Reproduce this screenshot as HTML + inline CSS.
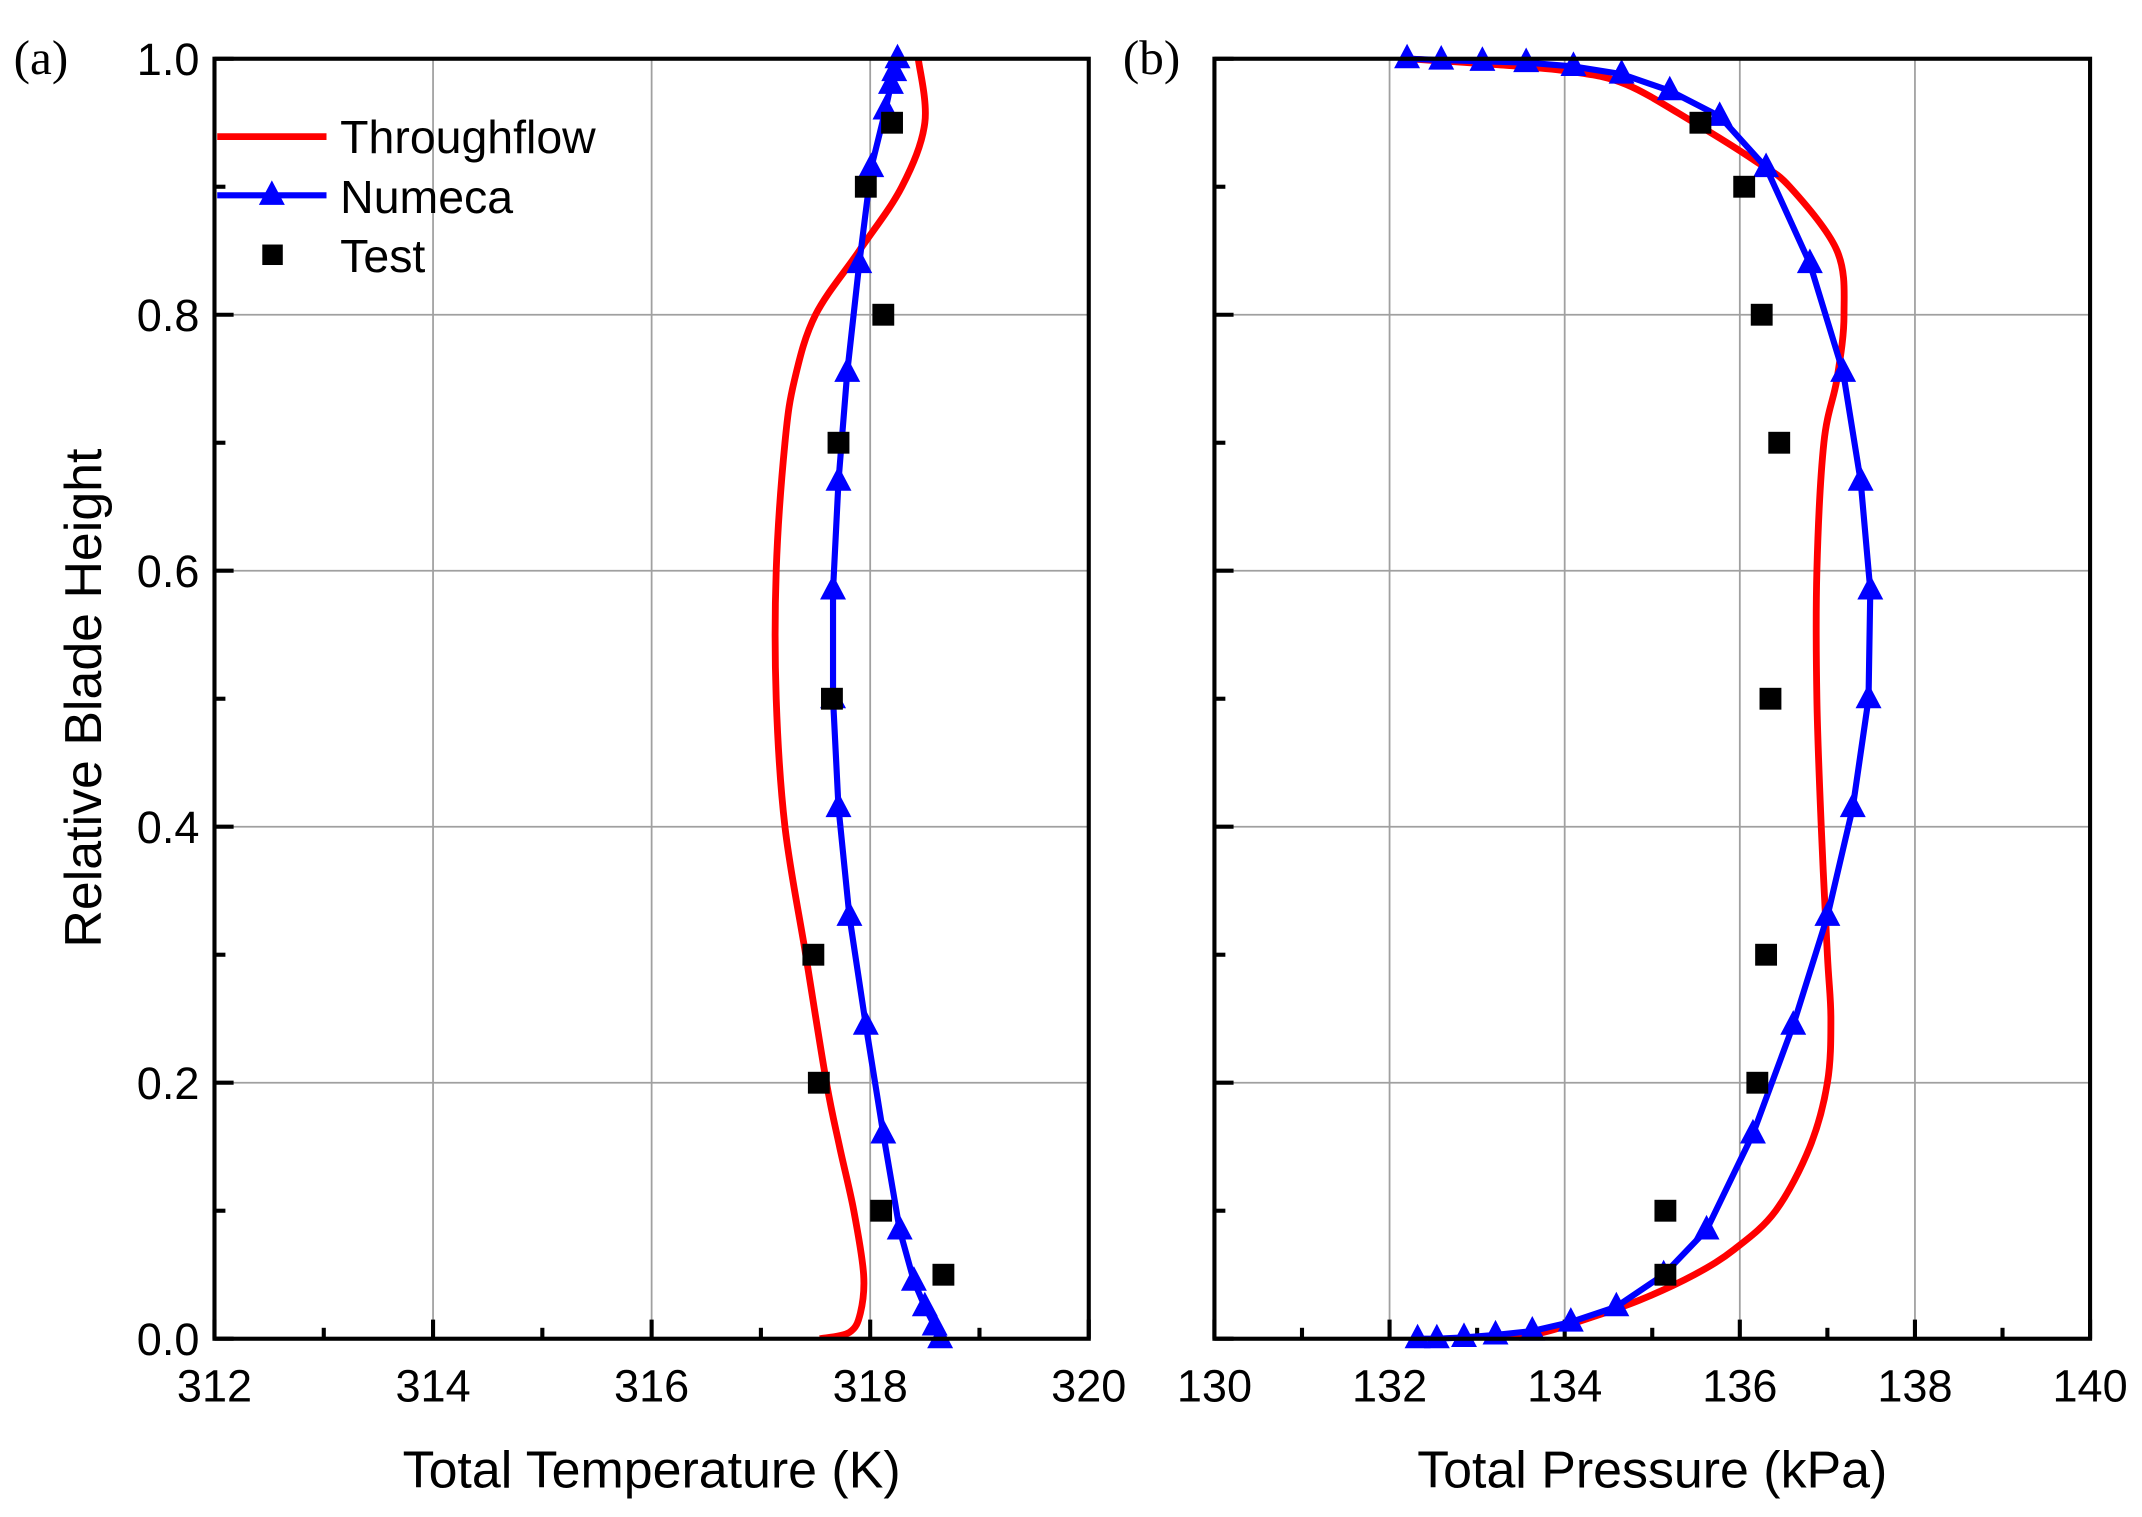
<!DOCTYPE html>
<html><head><meta charset="utf-8"><style>
html,body{margin:0;padding:0;background:#fff;}
svg{display:block;}
text{font-family:"Liberation Sans",Arial,sans-serif;fill:#000;}
</style></head><body>
<svg id="chart" width="2142" height="1517" viewBox="0 0 1568 1110.5" xmlns="http://www.w3.org/2000/svg"></svg>
<script>
// ---- data ----
const heightTicks = [0, 0.2, 0.4, 0.6, 0.8, 1.0];
const tempTicks = [312, 314, 316, 318, 320];
const presTicks = [130, 132, 134, 136, 138, 140];

const tfTempH = [1.0, 0.95, 0.9, 0.85, 0.8, 0.75, 0.7, 0.6, 0.5, 0.4, 0.3, 0.2, 0.15, 0.1, 0.05, 0.02, 0.005, 0.0];
const tfTempV = [318.44, 318.5, 318.29, 317.9, 317.5, 317.31, 317.22, 317.14, 317.14, 317.22, 317.41, 317.6, 317.72, 317.85, 317.94, 317.91, 317.81, 317.54];
const nmTempH = [1.0, 0.99, 0.98, 0.96, 0.915, 0.84, 0.755, 0.67, 0.585, 0.5, 0.415, 0.33, 0.245, 0.16, 0.085, 0.045, 0.025, 0.01, 0.0];
const nmTempV = [318.25, 318.22, 318.19, 318.14, 318.01, 317.9, 317.79, 317.71, 317.66, 317.66, 317.71, 317.81, 317.96, 318.12, 318.27, 318.4, 318.5, 318.59, 318.64];
const testTempH = [0.95, 0.9, 0.8, 0.7, 0.5, 0.3, 0.2, 0.1, 0.05];
const testTempV = [318.2, 317.96, 318.12, 317.71, 317.65, 317.48, 317.53, 318.1, 318.67];

const tfPresH = [1.0, 0.995, 0.99, 0.98, 0.95, 0.92, 0.9, 0.85, 0.8, 0.75, 0.7, 0.6, 0.5, 0.4, 0.3, 0.25, 0.2, 0.15, 0.1, 0.07, 0.05, 0.03, 0.015, 0.005, 0.0];
const tfPresV = [132.2, 133.3, 134.07, 134.7, 135.48, 136.18, 136.57, 137.11, 137.19, 137.11, 136.96, 136.88, 136.88, 136.93, 137.0, 137.04, 137.0, 136.8, 136.41, 135.94, 135.48, 134.85, 134.23, 133.76, 133.3];
const nmPresH = [1.0, 0.999, 0.998, 0.997, 0.994, 0.988, 0.975, 0.955, 0.915, 0.84, 0.755, 0.67, 0.585, 0.5, 0.415, 0.33, 0.245, 0.16, 0.085, 0.05, 0.025, 0.013, 0.006, 0.003, 0.001, 0.0, 0.0];
const nmPresV = [132.2, 132.59, 133.06, 133.56, 134.1, 134.65, 135.2, 135.77, 136.3, 136.8, 137.18, 137.38, 137.49, 137.47, 137.29, 137.0, 136.61, 136.15, 135.62, 135.13, 134.59, 134.07, 133.63, 133.21, 132.85, 132.54, 132.32];
const testPresH = [0.95, 0.9, 0.8, 0.7, 0.5, 0.3, 0.2, 0.1, 0.05];
const testPresV = [135.55, 136.05, 136.25, 136.45, 136.35, 136.3, 136.2, 135.15, 135.15];

// ---- drawing ----
const NS = "http://www.w3.org/2000/svg";
const svg = document.getElementById('chart');
function mk(tag, attrs, parent) {
  const e = document.createElementNS(NS, tag);
  for (const k in attrs) e.setAttribute(k, attrs[k]);
  (parent || svg).appendChild(e);
  return e;
}
const TOP = 43, BOT = 980;
const yS = v => BOT - v * (BOT - TOP);

function panel(L, R, x0, x1, xticks, minorStep, xlabel, tag, tfH, tfV, nmH, nmV, teH, teV, legend, name) {
  const xS = v => L + (v - x0) / (x1 - x0) * (R - L);
  const g = mk('g', {});
  
  
  xticks.forEach(t => { if (t > x0 && t < x1) {
    const l = mk('line', {x1: xS(t), x2: xS(t), y1: TOP, y2: BOT, stroke: '#a0a0a0', 'stroke-width': 1.3}, g);
    
    
  }});
  heightTicks.forEach(t => { if (t > 0 && t < 1) {
    const l = mk('line', {x1: L, x2: R, y1: yS(t), y2: yS(t), stroke: '#a0a0a0', 'stroke-width': 1.3}, g);
    
    
  }});
  for (let v = x0; v <= x1 + 1e-9; v += minorStep) {
    const major = xticks.some(t => Math.abs(t - v) < 1e-6);
    mk('line', {x1: xS(v), x2: xS(v), y1: BOT, y2: BOT - (major ? 14 : 8), stroke: '#000', 'stroke-width': 3}, g);
  }
  for (let v = 0; v <= 1.0001; v += 0.1) {
    const major = Math.round(v * 10) % 2 === 0;
    mk('line', {x1: L, x2: L + (major ? 14 : 8), y1: yS(v), y2: yS(v), stroke: '#000', 'stroke-width': 3}, g);
  }
  xticks.forEach(t => {
    const tx = mk('text', {x: xS(t), y: 1026, 'font-size': 33, 'text-anchor': 'middle'}, g);
    tx.textContent = t;
    
    
  });
  const xl = mk('text', {x: (L + R) / 2, y: 1089, 'font-size': 38, 'text-anchor': 'middle'}, g);
  xl.textContent = xlabel;
  
  
  const tg = mk('text', {x: L - 147 + (tag === '(b)' ? 80 : 0), y: 54, 'font-size': 36, style: 'font-family:"Liberation Serif",serif'}, g);
  tg.textContent = tag;
  
  
  const clip = 'clip-' + name;
  const cp = mk('clipPath', {id: clip}, g);
  mk('rect', {x: L, y: TOP - 10, width: R - L, height: BOT - TOP + 10}, cp);
  const pts = tfH.map((h, i) => [xS(tfV[i]), yS(h)]);
  let d = 'M' + pts[0][0] + ',' + pts[0][1];
  for (let i = 0; i < pts.length - 1; i++) {
    const p0 = pts[Math.max(0, i - 1)], p1 = pts[i], p2 = pts[i + 1], p3 = pts[Math.min(pts.length - 1, i + 2)];
    d += ' C' + (p1[0] + (p2[0] - p0[0]) / 6) + ',' + (p1[1] + (p2[1] - p0[1]) / 6) + ' ' +
      (p2[0] - (p3[0] - p1[0]) / 6) + ',' + (p2[1] - (p3[1] - p1[1]) / 6) + ' ' + p2[0] + ',' + p2[1];
  }
  const red = mk('path', {d: d, fill: 'none', stroke: '#ff0000', 'stroke-width': 5, 'clip-path': 'url(#' + clip + ')'}, g);
  
  
  const blue = mk('polyline', {points: nmH.map((h, i) => xS(nmV[i]) + ',' + yS(h)).join(' '), fill: 'none', stroke: '#0000ff', 'stroke-width': 4.5}, g);
  
  
  nmH.forEach((h, i) => {
    const x = xS(nmV[i]), y = yS(h);
    const t = mk('polygon', {points: `${x},${y - 11} ${x - 9.5},${y + 7} ${x + 9.5},${y + 7}`, fill: '#0000ff'}, g);
    
    
  });
  teH.forEach((h, i) => {
    const x = xS(teV[i]), y = yS(h);
    const r = mk('rect', {x: x - 8, y: y - 8, width: 16, height: 16, fill: '#000'}, g);
    
    
  });
  mk('rect', {x: L, y: TOP, width: R - L, height: BOT - TOP, fill: 'none', stroke: '#000', 'stroke-width': 3}, g);
  if (legend) {
    const lg = mk('g', {}, g);
    
    
    mk('line', {x1: 159, x2: 239, y1: 100, y2: 100, stroke: '#ff0000', 'stroke-width': 5}, lg);
    mk('line', {x1: 159, x2: 239, y1: 143, y2: 143, stroke: '#0000ff', 'stroke-width': 4.5}, lg);
    mk('polygon', {points: '199,132 189.5,150 208.5,150', fill: '#0000ff'}, lg);
    mk('rect', {x: 192, y: 179, width: 15, height: 15, fill: '#000'}, lg);
    [['Throughflow', 112], ['Numeca', 156], ['Test', 199]].forEach(([s, y]) => {
      const t = mk('text', {x: 249, y: y, 'font-size': 34}, lg);
      t.textContent = s;
      
      
    });
  }
}

heightTicks.forEach(t => {
  const tx = mk('text', {x: 146, y: yS(t) + 12, 'font-size': 33, 'text-anchor': 'end'});
  tx.textContent = t.toFixed(1);
  
  
});
const yt = mk('text', {x: 0, y: 0, 'font-size': 38, 'text-anchor': 'middle', transform: 'translate(74,511) rotate(-90)'});
yt.textContent = 'Relative Blade Height';



panel(157, 797, 312, 320, tempTicks, 1, 'Total Temperature (K)', '(a)', tfTempH, tfTempV, nmTempH, nmTempV, testTempH, testTempV, true, 'temperature-panel');
panel(889, 1530, 130, 140, presTicks, 1, 'Total Pressure (kPa)', '(b)', tfPresH, tfPresV, nmPresH, nmPresV, testPresH, testPresV, false, 'pressure-panel');
</script>
</body></html>
